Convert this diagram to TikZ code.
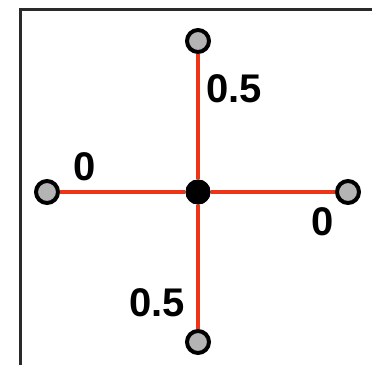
\documentclass[tikz,border=0pt]{standalone}
\usepackage{fontspec}
\setmainfont{Liberation Sans}
\definecolor{edgered}{HTML}{EE3416}
\definecolor{nodegray}{HTML}{B4B4B4}
\definecolor{framegray}{HTML}{2A2A2A}
\begin{document}
\begin{tikzpicture}[x=1pt,y=-1pt,
  leaf/.style={circle,draw=black,fill=nodegray,line width=4pt,minimum size=22pt,inner sep=0pt},
  hub/.style={circle,fill=black,minimum size=25pt,inner sep=0pt},
  edge/.style={draw=edgered,line width=3.5pt},
  lab/.style={font=\fontsize{40}{40}\selectfont\bfseries,inner sep=0pt,anchor=center}]
\useasboundingbox (0,0) rectangle (372,364);
\draw[framegray,line width=3pt] (20,400) -- (20,9) -- (400,9);
\node[hub] (c) at (198,192) {};
\node[leaf] (t) at (198,41) {};
\node[leaf] (b) at (198,342) {};
\node[leaf] (l) at (47,192) {};
\node[leaf] (r) at (348,192) {};
\draw[edge] (c) -- (t);
\draw[edge] (c) -- (b);
\draw[edge] (c) -- (l);
\draw[edge] (c) -- (r);
\node[hub] at (c) {};
\node[lab] (lt) at (234,89) {0.5};
\node[lab] (ll) at (85,167) {0};
\node[lab] (lr) at (323,222) {0};
\node[lab] (lb) at (157,303) {0.5};
\end{tikzpicture}
\end{document}
